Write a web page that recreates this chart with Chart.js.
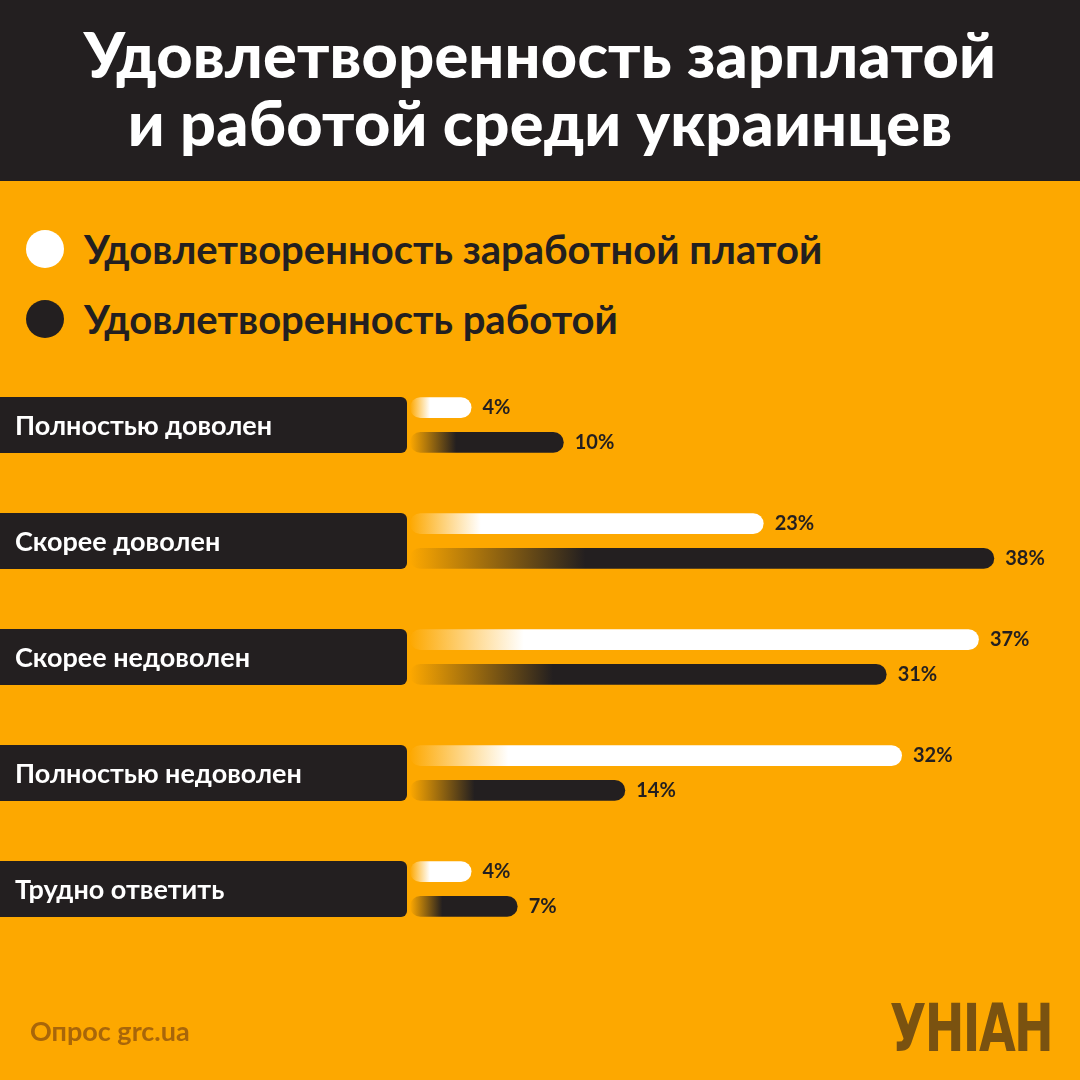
<!DOCTYPE html>
<html><head><meta charset="utf-8">
<script src="https://cdn.jsdelivr.net/npm/chart.js@4/dist/chart.umd.min.js"></script>
<style>
html,body{margin:0;padding:0;}
body{width:1080px;height:1080px;background:#fda800;position:relative;overflow:hidden;font-family:Lato,"Open Sans",sans-serif;}
#title{position:absolute;left:0;top:0;width:1080px;height:181px;background:#231f20;color:#fff;font-weight:900;font-size:63px;line-height:68px;text-align:center;padding-top:20px;box-sizing:border-box;letter-spacing:0.2px}
.leg{position:absolute;left:26px;font-weight:bold;font-size:40px;color:#231f20;display:flex;align-items:center}
.leg span.c{display:inline-block;width:38px;height:38px;border-radius:50%;margin-right:20px}
#foot{position:absolute;left:30px;top:1014px;font-size:27px;font-weight:bold;color:#a8660a}
#logo{position:absolute;right:28px;top:990px;font-size:66px;font-weight:900;color:#7a5210;letter-spacing:-2px;font-family:"DejaVu Sans Condensed","Liberation Sans Narrow",sans-serif;transform:scaleX(0.8);transform-origin:right}
#wrap{position:absolute;left:0;top:0;width:1080px;height:1080px}
</style></head><body>
<div id="title">Удовлетворенность зарплатой<br>и работой среди украинцев</div>
<div class="leg" style="top:225px"><span class="c" style="background:#fff"></span>Удовлетворенность заработной платой</div>
<div class="leg" style="top:295px"><span class="c" style="background:#231f20"></span>Удовлетворенность работой</div>
<div id="wrap"><canvas id="c" width="1080" height="1080"></canvas></div>
<div id="foot">Опрос grc.ua</div>
<div id="logo">УНІАН</div>
<script>
const categories=["Полностью доволен","Скорее доволен","Скорее недоволен","Полностью недоволен","Трудно ответить"];
const salary=[4,23,37,32,4];
const job=[10,38,31,14,7];
const seriesNames=["Удовлетворенность заработной платой","Удовлетворенность работой"];

function grad(ctx,color,fadeFrac){
  const ch=ctx.chart;const a=ch.chartArea;if(!a)return color;
  const v=ctx.raw;const x0=ch.scales.x.getPixelForValue(0),x1=ch.scales.x.getPixelForValue(v);
  const g=ch.ctx.createLinearGradient(x0,0,x0+Math.max(20,(x1-x0)*fadeFrac),0);
  g.addColorStop(0,'rgba(253,168,0,1)');g.addColorStop(1,color);return g;
}
const labelPlugin={id:'lbl',afterDatasetsDraw(ch){
  const c=ch.ctx;const ys=ch.scales.y;
  c.save();
  categories.forEach((t,i)=>{const y=ys.getPixelForValue(i);
    c.fillStyle='#231f20';c.beginPath();c.roundRect(-10,y-28,417,56,6);c.fill();
    c.fillStyle='#fff';c.font='bold 27px Lato';c.textBaseline='middle';c.fillText(t,15,y+1);});
  c.font='bold 20px Lato';c.fillStyle='#231f20';c.textBaseline='middle';
  ch.data.datasets.forEach((d,di)=>{ch.getDatasetMeta(di).data.forEach((b,i)=>{c.fillText(d.data[i]+'%',b.x+11,b.y);});});
  c.restore();}};
new Chart(document.getElementById('c'),{type:'bar',
 data:{labels:categories,datasets:[
  {label:seriesNames[0],data:salary,backgroundColor:ctx=>grad(ctx,'#ffffff',0.2),borderRadius:11,borderSkipped:false},
  {label:seriesNames[1],data:job,backgroundColor:ctx=>grad(ctx,'#231f20',0.3),borderRadius:11,borderSkipped:false}]},
 options:{indexAxis:'y',responsive:false,animation:false,devicePixelRatio:1,
  layout:{padding:{left:410,right:55,top:367,bottom:133}},
  categoryPercentage:0.6,barPercentage:0.6,
  plugins:{legend:{display:false},tooltip:{enabled:false}},
  scales:{x:{min:0,max:40,display:false},y:{display:false}}},
 plugins:[labelPlugin]});
</script></body></html>
